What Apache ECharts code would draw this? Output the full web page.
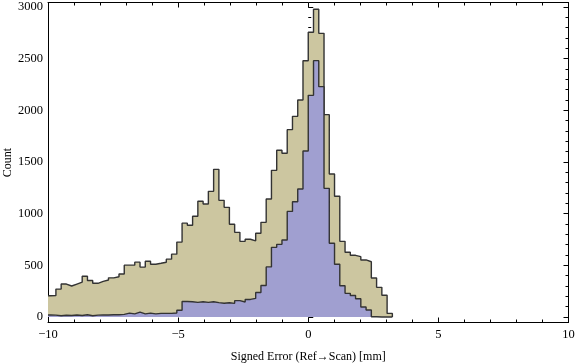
<!DOCTYPE html>
<html>
<head>
<meta charset="utf-8">
<script src="https://cdn.jsdelivr.net/npm/echarts@6/dist/echarts.min.js"></script>
<style>
  html, body { margin: 0; padding: 0; background: #fff; }
  #main { width: 576px; height: 364px; }
</style>
</head>
<body>
<div id="main"></div>
<script>
// histogram bins (left edge of first bin, bin width)
const binStart = -10.1;
const binWidth = 0.202;

// all points (tan)
const countsAll = [
  205, 207, 270, 319, 300, 319, 337, 395, 353, 326,
  345, 358, 379, 389, 416, 502, 502, 531, 483, 540,
  511, 520, 530, 560, 608, 725, 908, 888, 975, 1120,
  1094, 1216, 1429, 1129, 1061, 897, 819, 732, 752, 737,
  810, 916, 1142, 1419, 1613, 1584, 1813, 1942, 2100, 2480,
  2755, 2978, 2745, 1958, 1384, 1168, 732, 626, 597, 584,
  552, 535, 377, 287, 210, 35
];

// subset (blue)
const countsSubset = [
  20, 18, 12, 17, 15, 20, 14, 22, 12, 18,
  20, 20, 22, 22, 25, 38, 30, 48, 30, 38,
  30, 35, 35, 35, 38, 65, 150, 148, 142, 147,
  142, 148, 139, 133, 138, 132, 158, 145, 170, 180,
  237, 305, 485, 674, 703, 745, 1022, 1116, 1239, 1607,
  2145, 2481, 2229, 1245, 713, 510, 302, 229, 208, 176,
  97, 68, 2, 0, 0, 0
];

const xTicks = [-10, -5, 0, 5, 10];
const yTicks = [0, 500, 1000, 1500, 2000, 2500, 3000];

const xMin = xTicks[0], xMax = xTicks[xTicks.length - 1];

function steps(counts) {
  const pts = counts.map((c, i) => [Math.max(binStart + i * binWidth, xMin), c]);
  const end = binStart + counts.length * binWidth;
  pts.push([end, counts[counts.length - 1]]);
  pts.push([end, 0]);
  return pts;
}

const font = 'Liberation Serif';
const tickStyle = { inside: true, length: 5, lineStyle: { color: '#000', width: 1 } };
const minorStyle = { show: true, splitNumber: 5, length: 3, lineStyle: { color: '#000', width: 1 } };
const plain = v => String(v).replace('-', '\u2212');

const chart = echarts.init(document.getElementById('main'));

chart.setOption({
  animation: false,
  backgroundColor: '#fff',
  grid: [
    { left: 48, right: 7.5, top: 7, bottom: 47, outerBoundsMode: 'none' },       // data area: 0..3000
    { left: 48, right: 7.5, top: 2.5, bottom: 41.5, outerBoundsMode: 'none' }    // frame
  ],
  xAxis: [
    { gridIndex: 0, type: 'value', min: xMin, max: xMax, show: false },
    {
      gridIndex: 1, type: 'value', position: 'bottom', min: xMin, max: xMax, interval: 5,
      axisLine: { show: true, onZero: false, lineStyle: { color: '#000', width: 1 } },
      axisTick: tickStyle, minorTick: minorStyle, splitLine: { show: false },
      axisLabel: { color: '#000', fontFamily: font, fontSize: 12.5, margin: 6, formatter: plain },
      name: 'Signed Error (Ref\u2192Scan) [mm]', nameLocation: 'middle', nameGap: 28,
      nameTextStyle: { color: '#000', fontFamily: font, fontSize: 12 }
    },
    {
      gridIndex: 1, type: 'value', position: 'top', min: xMin, max: xMax, interval: 5,
      axisLine: { show: true, onZero: false, lineStyle: { color: '#000', width: 1 } },
      axisTick: tickStyle, minorTick: minorStyle, splitLine: { show: false },
      axisLabel: { show: false }
    }
  ],
  yAxis: [
    {
      gridIndex: 0, type: 'value', position: 'left', min: yTicks[0], max: yTicks[yTicks.length - 1], interval: 500,
      axisLine: { show: false },
      axisTick: tickStyle, minorTick: minorStyle, splitLine: { show: false },
      axisLabel: { color: '#000', fontFamily: font, fontSize: 12.5, margin: 5, formatter: plain }
    },
    {
      gridIndex: 0, type: 'value', position: 'right', min: yTicks[0], max: yTicks[yTicks.length - 1], interval: 500,
      axisLine: { show: false },
      axisTick: tickStyle, minorTick: minorStyle, splitLine: { show: false },
      axisLabel: { show: false }
    },
    {
      gridIndex: 1, type: 'value', position: 'left', min: 0, max: 1,
      axisLine: { show: true, onZero: false, lineStyle: { color: '#000', width: 1 } },
      axisTick: { show: false }, axisLabel: { show: false }, splitLine: { show: false },
      name: 'Count', nameLocation: 'middle', nameGap: 34,
      nameTextStyle: { color: '#000', fontFamily: font, fontSize: 12 }
    },
    {
      gridIndex: 1, type: 'value', position: 'right', min: 0, max: 1,
      axisLine: { show: true, onZero: false, lineStyle: { color: '#000', width: 1 } },
      axisTick: { show: false }, axisLabel: { show: false }, splitLine: { show: false }
    }
  ],
  series: [
    {
      name: 'all', type: 'line', xAxisIndex: 0, yAxisIndex: 0,
      data: steps(countsAll), step: 'end', symbol: 'none', clip: false,
      lineStyle: { color: '#333', width: 1.4 },
      areaStyle: { color: '#CCC6A0', opacity: 1 },
      z: 2
    },
    {
      name: 'subset', type: 'line', xAxisIndex: 0, yAxisIndex: 0,
      data: steps(countsSubset), step: 'end', symbol: 'none', clip: false,
      lineStyle: { color: '#333', width: 1.4 },
      areaStyle: { color: '#A09FD0', opacity: 1 },
      z: 3
    }
  ]
});
</script>
</body>
</html>
